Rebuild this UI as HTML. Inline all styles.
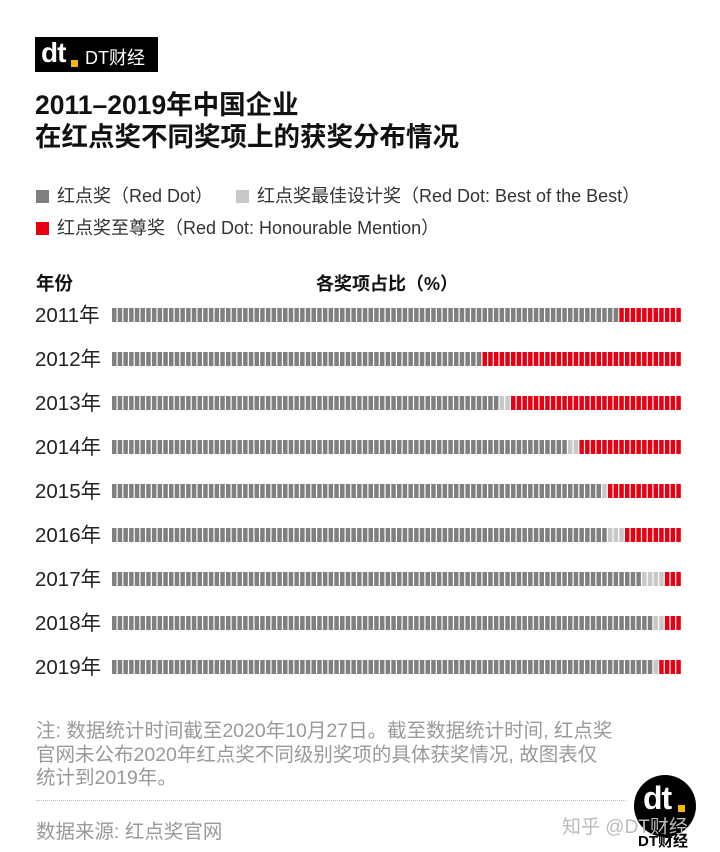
<!DOCTYPE html>
<html><head><meta charset="utf-8">
<style>
*{margin:0;padding:0;box-sizing:border-box}
body{width:720px;height:852px;background:#fff;position:relative;overflow:hidden;font-family:"Liberation Sans","Noto Sans CJK SC",sans-serif;color:#111}
.abs{position:absolute;white-space:nowrap}
</style></head><body>
<div class="abs" style="left:35px;top:37px;width:123px;height:35px;background:#000;color:#fff;">
  <span class="abs" style="left:6px;top:0px;font-size:28px;font-weight:bold;letter-spacing:-1px">dt</span>
  <span class="abs" style="left:36px;top:23px;width:7px;height:7px;background:#f0b800"></span>
  <span class="abs" style="left:50px;top:7px;font-size:18px">DT财经</span>
</div>
<div class="abs" style="left:35px;top:89px;font-size:26.5px;font-weight:bold;line-height:32px">2011–2019年中国企业<br>在红点奖不同奖项上的获奖分布情况</div>

<div class="abs" style="left:36px;top:182px;font-size:18px;color:#333"><span style="display:inline-block;width:13px;height:13px;background:#7f7f7f;margin-right:8px;vertical-align:-1px"></span>红点奖（Red Dot）</div>
<div class="abs" style="left:236px;top:182px;font-size:18px;color:#333"><span style="display:inline-block;width:13px;height:13px;background:#c8c8c8;margin-right:8px;vertical-align:-1px"></span>红点奖最佳设计奖（Red Dot: Best of the Best）</div>
<div class="abs" style="left:36px;top:214px;font-size:18px;color:#333"><span style="display:inline-block;width:13px;height:13px;background:#e60012;margin-right:8px;vertical-align:-1px"></span>红点奖至尊奖（Red Dot: Honourable Mention）</div>

<div class="abs" style="left:36px;top:270px;font-size:18.5px;font-weight:bold">年份</div>
<div class="abs" style="left:316px;top:270px;font-size:18px;font-weight:bold">各奖项占比（%）</div>

<svg id="chart" class="abs" style="left:0;top:290px" width="720" height="400"></svg>

<div class="abs" style="left:36px;top:720px;font-size:19.5px;line-height:23.5px;color:#999">注: 数据统计时间截至2020年10月27日。截至数据统计时间, 红点奖<br>官网未公布2020年红点奖不同级别奖项的具体获奖情况, 故图表仅<br>统计到2019年。</div>
<div class="abs" style="left:36px;top:800px;width:590px;border-top:1px dotted #bbb"></div>
<div class="abs" style="left:36px;top:815px;font-size:19.5px;color:#999">数据来源: 红点奖官网</div>
<div class="abs" style="left:634px;top:775px;width:62px;height:62px;border-radius:50%;background:#000;color:#fff">
  <span class="abs" style="left:9px;top:5px;font-size:32px;font-weight:bold;letter-spacing:-1px">dt</span>
  <span class="abs" style="left:44px;top:30px;width:7px;height:7px;background:#f0b800"></span>
</div>
<div class="abs" style="left:562px;top:812px;font-size:19px;color:#bbb">知乎 @DT财经</div>
<div class="abs" style="left:638px;top:830px;font-size:15px;font-weight:bold;color:#000">DT财经</div>

<script>
const years=['2011年','2012年','2013年','2014年','2015年','2016年','2017年','2018年','2019年'];
const redDot=[89,65,68,80,86,87,93,95,95];
const bestOfBest=[0,0,2,2,1,3,4,2,1];
const honourable=[11,35,30,18,13,10,3,3,4];
const colors=['#7f7f7f','#c8c8c8','#e60012'];
const svg=document.getElementById('chart');
const NS='http://www.w3.org/2000/svg';
const x0=112,x1=682,rowTop=18,rowStep=44,barH=14;
const xs=u=>x0+(x1-x0)*u/100;
const ys=i=>rowTop+i*rowStep;
years.forEach((y,i)=>{
  const t=document.createElementNS(NS,'text');
  
  
  t.setAttribute('x',35);t.setAttribute('y',ys(i)+barH);
  t.setAttribute('font-size','20.5');t.setAttribute('fill','#222');
  t.textContent=y;svg.appendChild(t);
  const vals=[redDot[i],bestOfBest[i],honourable[i]];
  const total=vals.reduce((a,b)=>a+b,0);
  let u=0;
  vals.forEach((v,k)=>{
    for(let j=0;j<v;j++){
      const r=document.createElementNS(NS,'rect');
      
      
      const a=xs(u*100/total),b=xs((u+1)*100/total);
      r.setAttribute('x',a);r.setAttribute('y',ys(i));
      r.setAttribute('width',Math.max(b-a-1.2,1));r.setAttribute('height',barH);
      r.setAttribute('fill',colors[k]);svg.appendChild(r);u++;
    }
  });
});
</script>
</body></html>
